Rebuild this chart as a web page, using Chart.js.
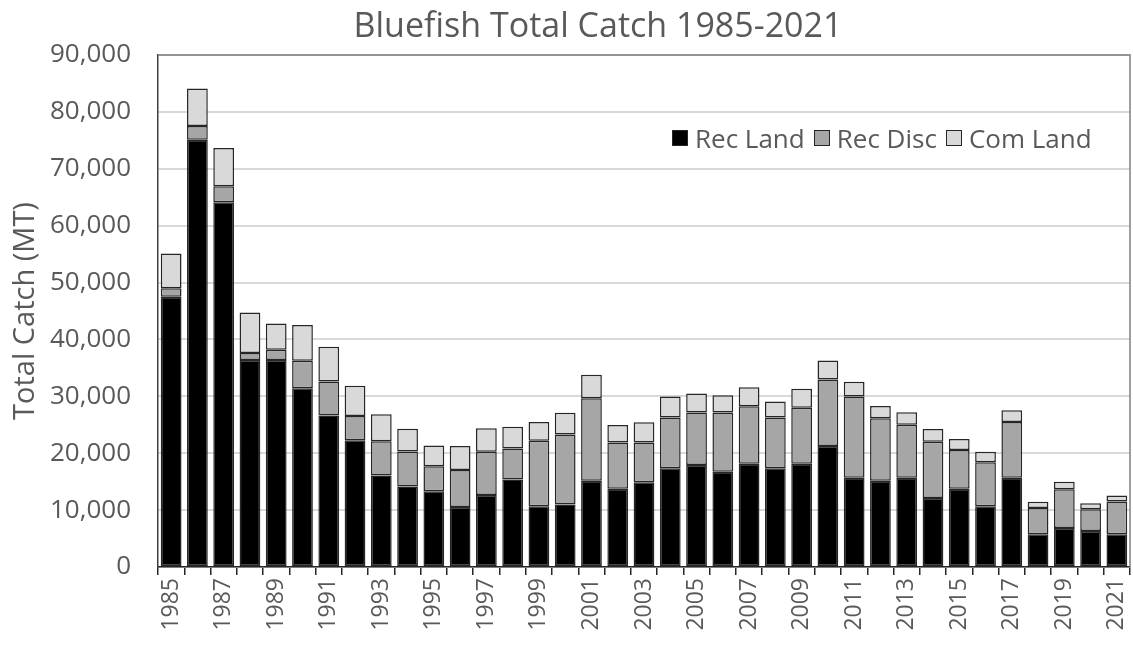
<!DOCTYPE html>
<html>
<head>
<meta charset="utf-8">
<script src="https://cdn.jsdelivr.net/npm/chart.js@4.4.1/dist/chart.umd.min.js"></script>
<style>
html,body{margin:0;padding:0;background:#fff;}
#wrap{position:relative;width:1133px;height:646px;}
#title{position:absolute;left:0;width:1196px;top:1px;text-align:center;font-family:"Open Sans",sans-serif;font-size:34px;color:#595959;white-space:nowrap;}
#legend{position:absolute;left:672px;top:120px;font-family:"Open Sans",sans-serif;font-size:26px;color:#595959;display:flex;align-items:center;white-space:nowrap;}
#legend span.item{display:flex;align-items:center;margin-right:9px;}
#legend span.box{display:inline-block;width:14px;height:14px;border:1.5px solid #262626;margin-right:7px;}
</style>
</head>
<body>
<div id="wrap">
<canvas id="catchChart" width="1133" height="646"></canvas>
<div id="title">Bluefish Total Catch 1985-2021</div>
<div id="legend"></div>
</div>
<script>
// ========== Data ==========
const years=['1985','1986','1987','1988','1989','1990','1991','1992','1993','1994','1995','1996','1997','1998','1999','2000','2001','2002','2003','2004','2005','2006','2007','2008','2009','2010','2011','2012','2013','2014','2015','2016','2017','2018','2019','2020','2021'];
const recLand=[47500,75100,64100,36400,36400,31400,26650,22300,16100,14150,13300,10550,12650,15400,10700,11000,15150,13750,14900,17350,17950,16750,18150,17350,18150,21250,15700,15150,15700,12150,13750,10700,15700,5750,6850,6350,5750];
const recDisc=[1500,2400,2850,1200,1800,4850,5950,4250,6000,6150,4400,6500,7600,5450,11500,12300,14500,8150,7000,8950,9200,10400,10100,8950,9850,11700,14250,11000,9300,9850,6800,7700,9800,4600,6800,3800,5750];
const comLand=[6100,6600,6700,7150,4600,6300,6100,5300,4750,4000,3650,4200,4150,3800,3300,3800,4150,3050,3550,3650,3350,3050,3350,2800,3350,3350,2600,2150,2200,2250,1950,1850,2050,1100,1350,1050,1050];
const seriesNames=['Rec Land','Rec Disc','Com Land'];
const seriesColors=['#000000','#a6a6a6','#d9d9d9'];
const yTicks=[0,10000,20000,30000,40000,50000,60000,70000,80000,90000];

function $(id){return document.getElementById(id);}
const FONT='"Open Sans", sans-serif', GREY='#595959';

// ========== Frame plugin (top/right box) ==========
const framePlugin={
    id:'frame',
    afterDatasetsDraw(c){
        const a=c.chartArea, ctx=c.ctx;
        ctx.save();
        ctx.strokeStyle='#7f7f7f'; ctx.lineWidth=1.5;
        ctx.beginPath();
        ctx.moveTo(a.left,a.top); ctx.lineTo(a.right,a.top); ctx.lineTo(a.right,a.bottom);
        ctx.stroke();
        ctx.restore();
    }
};

// ========== Chart ==========
const allSeries=[recLand,recDisc,comLand];
const datasets=allSeries.map((d,i)=>({
    label:seriesNames[i],
    data:d,
    backgroundColor:seriesColors[i],
    borderColor:'#262626',
    borderWidth:1.5,
    borderSkipped:false,
    categoryPercentage:1,
    barPercentage:0.79
}));

new Chart($('catchChart'),{
    type:'bar',
    data:{labels:years,datasets:datasets},
    plugins:[framePlugin],
    options:{
        responsive:false,animation:false,
        layout:{padding:{left:0,right:3,top:55,bottom:0}},
        plugins:{
            legend:{display:false},
            tooltip:{enabled:false},
            title:{display:false}
        },
        scales:{
            x:{
                stacked:true,
                grid:{display:true,drawOnChartArea:false,offset:true,color:'#262626',lineWidth:1.5,tickLength:8,tickColor:'#262626'},
                border:{display:true,color:'#262626',width:1.5},
                ticks:{autoSkip:false,maxRotation:90,minRotation:90,color:GREY,font:{family:FONT,size:23},padding:3,
                    callback:(v,i)=>i%2===0?years[i]:''},
                afterFit:s=>{s.height=646-567;s.paddingLeft=0;s.paddingRight=0;}
            },
            y:{
                stacked:true,min:0,max:90000,
                afterBuildTicks:s=>{s.ticks=yTicks.map(v=>({value:v}));},
                grid:{color:'#d9d9d9',lineWidth:2,drawTicks:false},
                border:{display:true,color:'#404040',width:1.5},
                ticks:{color:GREY,font:{family:FONT,size:26},padding:27,
                    callback:v=>v.toLocaleString('en-US')},
                title:{display:true,text:'Total Catch (MT)',color:GREY,font:{family:FONT,size:29},padding:{top:8,bottom:0}},
                afterFit:s=>{s.width=158;s.paddingTop=0;s.paddingBottom=0;}
            }
        }
    }
});

// ========== HTML legend ==========
seriesNames.forEach((n,i)=>{
    const it=document.createElement('span'); it.className='item';
    const b=document.createElement('span'); b.className='box'; b.style.background=seriesColors[i];
    it.appendChild(b); it.appendChild(document.createTextNode(n));
    $('legend').appendChild(it);
});
</script>
</body>
</html>
